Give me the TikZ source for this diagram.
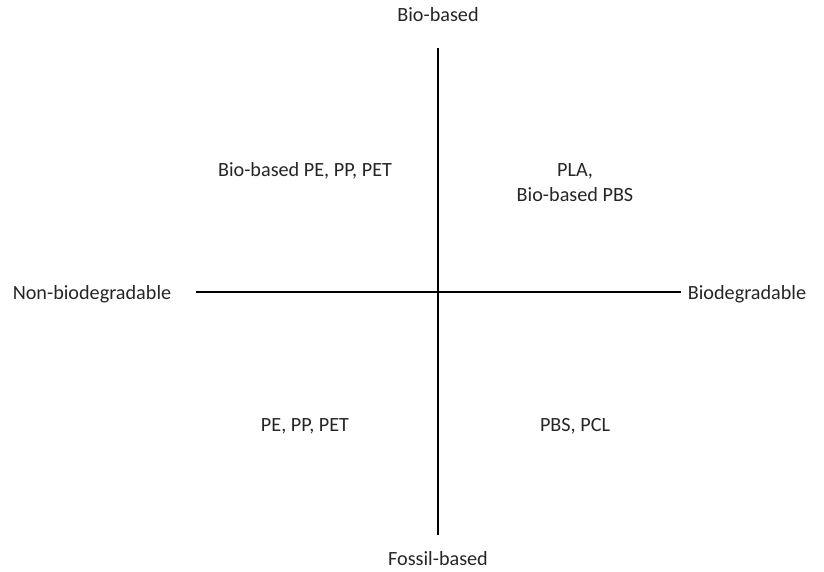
\documentclass[tikz,border=0pt]{standalone}
\usepackage{fontspec}
\setmainfont{Carlito}
\begin{document}
\begin{tikzpicture}[x=1pt,y=-1pt,
  lbl/.style={inner sep=0pt,font=\fontsize{20.2}{25}\selectfont,align=center,text=black!85},
  axis/.style={line width=1.4pt,black}]
\useasboundingbox (0,0) rectangle (824,572);
\coordinate (vt) at (438,48);
\coordinate (vb) at (438,535);
\coordinate (hl) at (196,292);
\coordinate (hr) at (681,292);
\draw[axis] (vt) -- (vb);
\draw[axis] (hl) -- (hr);
\node[lbl] (top) at (438,15) {Bio-based};
\node[lbl] (bot) at (438,559) {Fossil-based};
\node[lbl] (left) at (92,294) {Non-biodegradable};
\node[lbl] (right) at (747,294) {Biodegradable};
\node[lbl] (q2) at (305,171) {Bio-based PE, PP, PET};
\node[lbl] (q1) at (575,183) {PLA,\\Bio-based PBS};
\node[lbl] (q3) at (305,426) {PE, PP, PET};
\node[lbl] (q4) at (575,426) {PBS, PCL};
\end{tikzpicture}
\end{document}
